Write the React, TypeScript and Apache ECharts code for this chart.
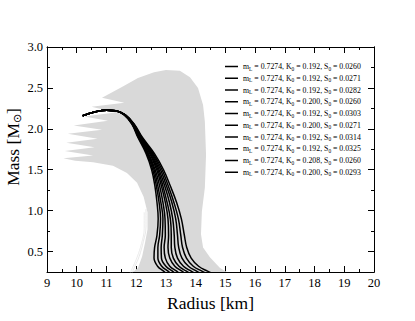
import React, { useEffect, useRef } from 'react';
import * as echarts from 'echarts';

const SERIF = 'Liberation Serif';

const xTickValues = [9, 10, 11, 12, 13, 14, 15, 16, 17, 18, 19, 20];
const yMajorTicks = [0.5, 1.0, 1.5, 2.0, 2.5, 3.0];
const yMinorTicks = [0.25, 0.75, 1.25, 1.75, 2.25, 2.75];

const curveNames = [
  'm_L = 0.7274, K_0 = 0.192, S_0 = 0.0260',
  'm_L = 0.7274, K_0 = 0.192, S_0 = 0.0271',
  'm_L = 0.7274, K_0 = 0.192, S_0 = 0.0282',
  'm_L = 0.7274, K_0 = 0.200, S_0 = 0.0260',
  'm_L = 0.7274, K_0 = 0.192, S_0 = 0.0303',
  'm_L = 0.7274, K_0 = 0.200, S_0 = 0.0271',
  'm_L = 0.7274, K_0 = 0.192, S_0 = 0.0314',
  'm_L = 0.7274, K_0 = 0.192, S_0 = 0.0325',
  'm_L = 0.7274, K_0 = 0.208, S_0 = 0.0260',
  'm_L = 0.7274, K_0 = 0.200, S_0 = 0.0293',
];

// mass samples shared by the black M-R curves
const massLevels = [2.16, 2.205, 2.228, 2.222, 2.17, 2.06, 1.90, 1.70, 1.50, 1.30, 1.10, 0.90, 0.70, 0.55, 0.42, 0.32, 0.26, 0.235];

const radiusC1 = [10.20, 10.60, 11.00, 11.30, 11.60, 11.85, 12.05, 12.33, 12.52, 12.63, 12.70, 12.74, 12.70, 12.62, 12.60, 12.72, 12.92, 13.00];
const radiusC2 = [10.20, 10.60, 11.00, 11.30, 11.60, 11.86, 12.07, 12.36, 12.56, 12.68, 12.77, 12.82, 12.79, 12.73, 12.73, 12.86, 13.07, 13.15];
const radiusC3 = [10.20, 10.60, 11.00, 11.30, 11.61, 11.87, 12.08, 12.39, 12.60, 12.73, 12.83, 12.90, 12.88, 12.84, 12.85, 13.00, 13.22, 13.30];
const radiusC4 = [10.20, 10.60, 11.00, 11.31, 11.61, 11.87, 12.10, 12.41, 12.64, 12.79, 12.90, 12.97, 12.98, 12.94, 12.98, 13.13, 13.36, 13.45];
const radiusC5 = [10.20, 10.60, 11.00, 11.31, 11.62, 11.88, 12.11, 12.45, 12.69, 12.85, 12.98, 13.07, 13.09, 13.07, 13.13, 13.30, 13.54, 13.63];
const radiusC6 = [10.20, 10.60, 11.01, 11.31, 11.62, 11.89, 12.13, 12.48, 12.73, 12.90, 13.04, 13.15, 13.18, 13.18, 13.25, 13.44, 13.69, 13.80];
const radiusC7 = [10.20, 10.60, 11.01, 11.31, 11.63, 11.90, 12.14, 12.51, 12.77, 12.96, 13.12, 13.23, 13.28, 13.30, 13.39, 13.59, 13.85, 13.97];
const radiusC8 = [10.20, 10.60, 11.01, 11.32, 11.63, 11.91, 12.16, 12.54, 12.82, 13.02, 13.20, 13.33, 13.39, 13.43, 13.54, 13.76, 14.03, 14.16];
const radiusC9 = [10.20, 10.60, 11.01, 11.32, 11.63, 11.92, 12.18, 12.57, 12.87, 13.08, 13.27, 13.42, 13.50, 13.56, 13.69, 13.92, 14.21, 14.35];
const radiusC10 = [10.20, 10.60, 11.01, 11.32, 11.64, 11.93, 12.20, 12.61, 12.92, 13.15, 13.36, 13.52, 13.62, 13.70, 13.85, 14.10, 14.40, 14.55];

const curveRadii = [radiusC1, radiusC2, radiusC3, radiusC4, radiusC5, radiusC6, radiusC7, radiusC8, radiusC9, radiusC10];

// outline of the grey band of many M-R curves (radius, mass)
const grayRadius = [11.85, 12.06, 12.20, 12.30, 12.38, 12.38, 12.25, 12.03, 11.69, 11.22, 10.55, 9.95,
  9.55, 10.55, 9.60, 10.60, 9.65, 10.70, 9.70, 10.85, 9.90, 11.05, 10.25, 11.30, 10.50, 11.60, 10.85,
  11.52, 12.06, 12.60, 13.00, 13.47, 13.81, 14.08, 14.25, 14.31, 14.35, 14.31, 14.21, 14.18, 14.25, 14.48, 14.82, 15.05, 15.10];
const grayMass = [0.24, 0.30, 0.44, 0.61, 0.77, 0.98, 1.17, 1.34, 1.46, 1.55, 1.59, 1.61,
  1.64, 1.675, 1.73, 1.775, 1.83, 1.88, 1.94, 1.99, 2.04, 2.10, 2.15, 2.20, 2.27, 2.32, 2.38,
  2.51, 2.62, 2.69, 2.72, 2.71, 2.63, 2.50, 2.29, 2.09, 1.68, 1.28, 0.99, 0.71, 0.55, 0.43, 0.30, 0.25, 0.24];

// faint grey curves just left of the band's lower edge
const faintRadiusA = [12.33, 12.33, 12.24, 12.10, 11.96, 11.86];
const faintMassA = [1.02, 0.80, 0.62, 0.44, 0.32, 0.24];
const faintRadiusB = [12.27, 12.27, 12.18, 12.03, 11.90, 11.80];
const faintMassB = [0.98, 0.78, 0.60, 0.43, 0.32, 0.24];

const zip = (xs: number[], ys: number[]) => xs.map((x, i) => [x, ys[i]]);

export default function App() {
  const ref = useRef<HTMLDivElement>(null);
  useEffect(() => {
    const chart = echarts.init(ref.current!, null, { renderer: 'svg' });
    const grayPts = zip(grayRadius, grayMass);
    const axisCommon = {
      axisLine: { show: true, onZero: false, lineStyle: { color: '#000', width: 1 } },
      splitLine: { show: false },
    };
    const option: any = {
      animation: false,
      backgroundColor: '#fff',
      textStyle: { fontFamily: SERIF },
      grid: { left: 47, right: 41, top: 47, bottom: 49 },
      xAxis: [
        {
          type: 'value', min: 9, max: 20, interval: 1, position: 'bottom', ...axisCommon,
          axisTick: { inside: true, length: 6, lineStyle: { color: '#000' } },
          minorTick: { show: true, splitNumber: 2, length: 3, lineStyle: { color: '#000' } },
          axisLabel: { fontFamily: SERIF, fontSize: 12.5, color: '#000', margin: 4,
            customValues: xTickValues },
          name: 'Radius [km]', nameLocation: 'middle', nameGap: 15,
          nameTextStyle: { fontFamily: SERIF, fontSize: 17.5, color: '#000', verticalAlign: 'top' },
        },
        {
          type: 'value', min: 9, max: 20, interval: 1, position: 'top', ...axisCommon,
          axisTick: { inside: true, length: 6, lineStyle: { color: '#000' } },
          minorTick: { show: true, splitNumber: 2, length: 3, lineStyle: { color: '#000' } },
          axisLabel: { show: false },
        },
      ],
      yAxis: [
        {
          type: 'value', min: 0.25, max: 3, position: 'left', ...axisCommon,
          axisTick: { inside: true, length: 6, customValues: yMajorTicks, lineStyle: { color: '#000' } },
          axisLabel: { fontFamily: SERIF, fontSize: 12.5, color: '#000', margin: 4,
            customValues: yMajorTicks, formatter: (v: number) => v.toFixed(1) },
        },
        {
          type: 'value', min: 0.25, max: 3, position: 'left', ...axisCommon,
          axisTick: { inside: true, length: 3, customValues: yMinorTicks, lineStyle: { color: '#000' } },
          axisLabel: { show: false },
        },
        {
          type: 'value', min: 0.25, max: 3, position: 'right', ...axisCommon,
          axisTick: { inside: true, length: 6, customValues: yMajorTicks, lineStyle: { color: '#000' } },
          axisLabel: { show: false },
        },
        {
          type: 'value', min: 0.25, max: 3, position: 'right', ...axisCommon,
          axisTick: { inside: true, length: 3, customValues: yMinorTicks, lineStyle: { color: '#000' } },
          axisLabel: { show: false },
        },
      ],
      legend: {
        data: curveNames,
        orient: 'vertical',
        left: 225, top: 62,
        padding: 0,
        itemWidth: 13, itemHeight: 1.5, itemGap: 2.75,
        icon: 'rect',
        selectedMode: false,
        formatter: (name: string) => name.replace(/_(\w)/g, '{s|$1}'),
        textStyle: {
          fontFamily: SERIF, fontSize: 7.8, color: '#000', lineHeight: 8.5,
          rich: { s: { fontFamily: SERIF, fontSize: 5.4, color: '#000', lineHeight: 8.5, padding: [4, 0, 0, 0] } },
        },
      },
      graphic: [
        {
          type: 'text', x: 13, y: 147, rotation: Math.PI / 2,
          style: {
            text: 'Mass [M{s|⊙}]', fontFamily: SERIF, fontSize: 17.5, fill: '#000',
            align: 'center', verticalAlign: 'middle',
            rich: { s: { fontFamily: SERIF, fontSize: 11, fill: '#000', padding: [8, 0, 0, 0] } },
          },
        },
      ],
      series: [
        {
          type: 'line', silent: true, smooth: 0.4, symbol: 'none', z: 1,
          data: zip(faintRadiusA, faintMassA),
          lineStyle: { color: '#e2e2e2', width: 0.8 },
        },
        {
          type: 'line', silent: true, smooth: 0.4, symbol: 'none', z: 1,
          data: zip(faintRadiusB, faintMassB),
          lineStyle: { color: '#e6e6e6', width: 0.8 },
        },
        {
          type: 'custom', silent: true, clip: true, z: 1,
          data: [[0]],
          renderItem: (_p: any, api: any) => ({
            type: 'polygon',
            shape: { points: grayPts.map((p) => api.coord(p)) },
            style: { fill: '#d9d9d9' },
          }),
        },
        ...curveRadii.map((r, i) => ({
          name: curveNames[i],
          type: 'line', smooth: 0.4, symbol: 'none', z: 3,
          data: zip(r, massLevels),
          color: '#000',
          lineStyle: { color: '#000', width: 1.5 },
        })),
      ],
    };
    chart.setOption(option);
    return () => chart.dispose();
  }, []);
  return <div ref={ref} style={{ position: 'absolute', left: 0, top: 0, width: 415, height: 321 }} />;
}
